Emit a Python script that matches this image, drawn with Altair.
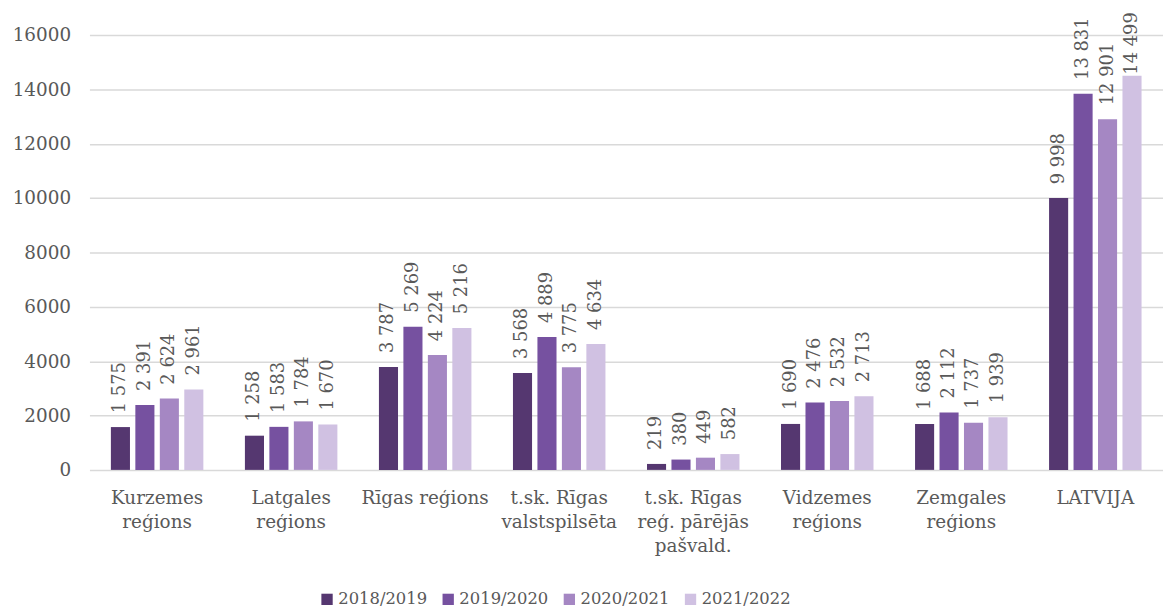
import altair as alt
import pandas as pd

categories = [
    "Kurzemes\nreģions",
    "Latgales\nreģions",
    "Rīgas reģions",
    "t.sk. Rīgas\nvalstspilsēta",
    "t.sk. Rīgas\nreģ. pārējās\npašvald.",
    "Vidzemes\nreģions",
    "Zemgales\nreģions",
    "LATVIJA",
]
years = ["2018/2019", "2019/2020", "2020/2021", "2021/2022"]
v2018 = [1575, 1258, 3787, 3568, 219, 1690, 1688, 9998]
v2019 = [2391, 1583, 5269, 4889, 380, 2476, 2112, 13831]
v2020 = [2624, 1784, 4224, 3775, 449, 2532, 1737, 12901]
v2021 = [2961, 1670, 5216, 4634, 582, 2713, 1939, 14499]
colors = ["#553770", "#7651A0", "#A587C3", "#D0C1E2"]

rows = []
for y, vals in zip(years, [v2018, v2019, v2020, v2021]):
    for c, v in zip(categories, vals):
        rows.append({"cat": c, "year": y, "value": v,
                     "label": f"{v:,}".replace(",", " ")})
df = pd.DataFrame(rows)

FONT = "DejaVu Serif"
TXT = "#595959"

x = alt.X("cat:N", sort=categories, title=None,
          scale=alt.Scale(paddingInner=0.31, paddingOuter=0.16),
          axis=alt.Axis(labelExpr="split(datum.value, '\\n')", labelAngle=0,
                        domain=False, ticks=False, labelPadding=19,
                        labelFontSize=18.5, labelColor=TXT, labelFont=FONT,
                        labelLineHeight=24, labelBaseline="top"))
xo = alt.XOffset("year:N", sort=years, scale=alt.Scale(paddingInner=0.22))

base = alt.Chart(df)

bars = base.mark_bar().encode(
    x=x, xOffset=xo,
    y=alt.Y("value:Q", title=None,
            scale=alt.Scale(domain=[0, 16000], nice=False),
            axis=alt.Axis(values=list(range(0, 16001, 2000)), format="d",
                          domain=False, ticks=False, labelPadding=19,
                          labelFontSize=18.5, labelColor=TXT, labelFont=FONT,
                          gridColor="#d9d9d9", gridWidth=1.5)),
    color=alt.Color("year:N", sort=years,
                    scale=alt.Scale(domain=years, range=colors),
                    legend=alt.Legend(title=None, orient="none", direction="horizontal",
                                      legendX=231, legendY=560,
                                      symbolType="square", symbolSize=130,
                                      symbolStrokeWidth=0, labelFontSize=16.5,
                                      labelFont=FONT, labelColor=TXT,
                                      columnPadding=12, labelOffset=3)),
)

label_enc = dict(x=x, xOffset=xo, y=alt.Y("value:Q"), text="label:N")

labels = base.mark_text(angle=270, align="left", baseline="middle", dx=14,
                        fontSize=18, font=FONT, color=TXT).encode(
    **label_enc
).transform_filter(alt.datum.value < 14000)

labels_top = base.mark_text(angle=270, align="left", baseline="middle", dx=1,
                            fontSize=18, font=FONT, color=TXT).encode(
    **label_enc
).transform_filter(alt.datum.value >= 14000)

chart = (bars + labels + labels_top).properties(
    width=1081, height=438,
    autosize=alt.AutoSizeParams(type="none"),
    padding={"left": 82, "top": 25, "right": 0, "bottom": 140},
).configure(background="white").configure_view(stroke=None)

chart.save("out.html", embed_options={"renderer": "svg", "actions": False})
